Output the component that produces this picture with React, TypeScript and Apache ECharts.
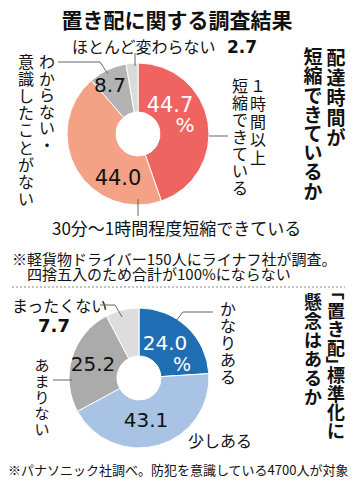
import React, { useEffect, useRef } from "react";
import * as echarts from "echarts";

const deliveryCategories = ["1時間以上短縮できている", "30分～1時間程度短縮できている", "わからない・意識したことがない", "ほとんど変わらない"];
const deliveryValues = [44.7, 44.0, 8.7, 2.7];
const concernCategories = ["かなりある", "少しある", "あまりない", "まったくない"];
const concernValues = [24.0, 43.1, 25.2, 7.7];

const deliveryColors = ["#EF6461", "#F4A186", "#B3B3B3", "#DADADA"];
const concernColors = ["#1F6DB3", "#A9C3E5", "#ABABAB", "#DDDDDD"];

const JP = '"Noto Sans CJK JP", sans-serif';
const NUM = '"DejaVu Sans", sans-serif';

const fmt = (v: number) => v.toFixed(1);

function htext(text: string, x: number, y: number, size: number, opts: any = {}) {
  return {
    type: "text",
    x,
    y,
    z: 100,
    silent: true,
    style: {
      text,
      fontSize: size,
      fontFamily: opts.family || JP,
      fontWeight: opts.weight || "normal",
      fill: opts.fill || "#111",
      textAlign: opts.align || "left",
      textVerticalAlign: "middle",
    },
  };
}

// vertical text: runs of ordinary characters become one multi-line text element;
// corner brackets are rotated and take half a slot.
function vtext(text: string, x: number, y: number, size: number, pitch: number, opts: any = {}) {
  const els: any[] = [];
  let cy = y;
  let run: string[] = [];
  const base = {
    fontSize: size,
    fontFamily: opts.family || JP,
    fontWeight: opts.weight || "normal",
    fill: opts.fill || "#111",
    textAlign: "center",
  };
  const flush = () => {
    if (!run.length) return;
    els.push({
      type: "text",
      x,
      y: cy,
      z: 100,
      silent: true,
      style: { ...base, text: run.join("\n"), lineHeight: pitch, textVerticalAlign: "top" },
    });
    cy += run.length * pitch;
    run = [];
  };
  for (const ch of Array.from(text)) {
    if (ch === "「" || ch === "」") {
      flush();
      const open = ch === "「";
      els.push({
        type: "text",
        x,
        y: open ? cy : cy + pitch / 2,
        rotation: -Math.PI / 2,
        z: 100,
        silent: true,
        style: { ...base, text: ch, textVerticalAlign: "middle" },
      });
      cy += pitch * 0.5;
    } else {
      run.push(ch);
    }
  }
  flush();
  return { type: "group", children: els };
}

function leader(points: number[][]) {
  return {
    type: "polyline",
    z: 100,
    silent: true,
    shape: { points },
    style: { stroke: "#666", lineWidth: 1, fill: "none" },
  };
}

export default function App() {
  const ref = useRef<HTMLDivElement>(null);
  useEffect(() => {
    if (!ref.current) return;
    const chart = echarts.init(ref.current, null, { renderer: "svg" });
    const pieBase = {
      type: "pie",
      startAngle: 90,
      clockwise: true,
      silent: true,
      label: { show: false },
      labelLine: { show: false },
      emphasis: { disabled: true },
      itemStyle: { borderColor: "#fff", borderWidth: 1 },
    };
    chart.setOption({
      animation: false,
      backgroundColor: "#fff",
      series: [
        {
          ...pieBase,
          center: [138, 134],
          radius: [22, 71],
          data: deliveryValues.map((v, i) => ({ name: deliveryCategories[i], value: v, itemStyle: { color: deliveryColors[i] } })),
        },
        {
          ...pieBase,
          center: [139, 378],
          radius: [22, 70],
          data: concernValues.map((v, i) => ({ name: concernCategories[i], value: v, itemStyle: { color: concernColors[i] } })),
        },
      ],
      graphic: [
        htext("置き配に関する調査結果", 177, 19, 21, { align: "center", weight: "bold" }),
        vtext("配達時間が", 336, 46, 19, 20, { weight: "bold" }),
        vtext("短縮できているか", 313, 46, 19, 19.2, { weight: "bold" }),
        // top donut labels
        htext("ほとんど変わらない", 72, 46, 16),
        htext(fmt(deliveryValues[3]), 227, 47, 17, { family: NUM, weight: "bold" }),
        leader([[135, 53], [135, 66]]),
        vtext("わからない・", 47, 53, 16, 16.5),
        vtext("意識したことがない", 26, 52, 16, 17.2),
        leader([[58, 62], [100, 62], [108, 74]]),
        htext(fmt(deliveryValues[2]), 110, 85, 20, { family: NUM, align: "center" }),
        htext(fmt(deliveryValues[0]), 170, 105, 21, { family: NUM, align: "center", fill: "#fff" }),
        htext("%", 185, 125, 20, { family: NUM, align: "center", fill: "#fff" }),
        leader([[209, 136], [228, 136]]),
        vtext("１時間以上", 258, 76, 16, 18),
        vtext("短縮できている", 240, 76, 16, 17),
        htext(fmt(deliveryValues[1]), 118, 178, 21, { family: NUM, align: "center" }),
        leader([[138, 199], [138, 216]]),
        htext("30分～1時間程度短縮できている", 52, 227, 17),
        // notes
        htext("※軽貨物ドライバー150人にライナフ社が調査。", 12, 258, 15),
        htext("四捨五入のため合計が100%にならない", 27, 273, 15),
        {
          type: "line",
          z: 100,
          silent: true,
          shape: { x1: 12, y1: 287, x2: 345, y2: 287 },
          style: { stroke: "#888", lineWidth: 1, lineDash: [2, 2] },
        },
        // bottom title
        vtext("「置き配」標準化に", 336, 291, 18, 18.5, { weight: "bold" }),
        vtext("懸念はあるか", 313, 291, 18, 19, { weight: "bold" }),
        // bottom donut labels
        htext("まったくない", 12, 305, 16),
        leader([[100, 305], [115, 305], [122, 317]]),
        htext(fmt(concernValues[3]), 54, 325, 18, { family: NUM, align: "center", weight: "bold" }),
        vtext("あまりない", 42, 356, 15, 16),
        leader([[53, 380], [72, 380]]),
        htext(fmt(concernValues[2]), 93, 364, 20, { family: NUM, align: "center" }),
        htext(fmt(concernValues[0]), 165, 343, 20, { family: NUM, align: "center", fill: "#fff" }),
        htext("%", 182, 364, 19, { family: NUM, align: "center", fill: "#fff" }),
        leader([[175, 322], [183, 312], [213, 312]]),
        vtext("かなりある", 228, 299, 16, 17),
        htext(fmt(concernValues[1]), 146, 420, 20, { family: NUM, align: "center" }),
        htext("少しある", 188, 440, 16),
        htext("※パナソニック社調べ。防犯を意識している4700人が対象", 8, 469, 13),
      ],
    });
    return () => chart.dispose();
  }, []);
  return (
    <div
      ref={ref}
      style={{ position: "fixed", left: 0, top: 0, width: 357, height: 488, background: "#fff" }}
    />
  );
}
